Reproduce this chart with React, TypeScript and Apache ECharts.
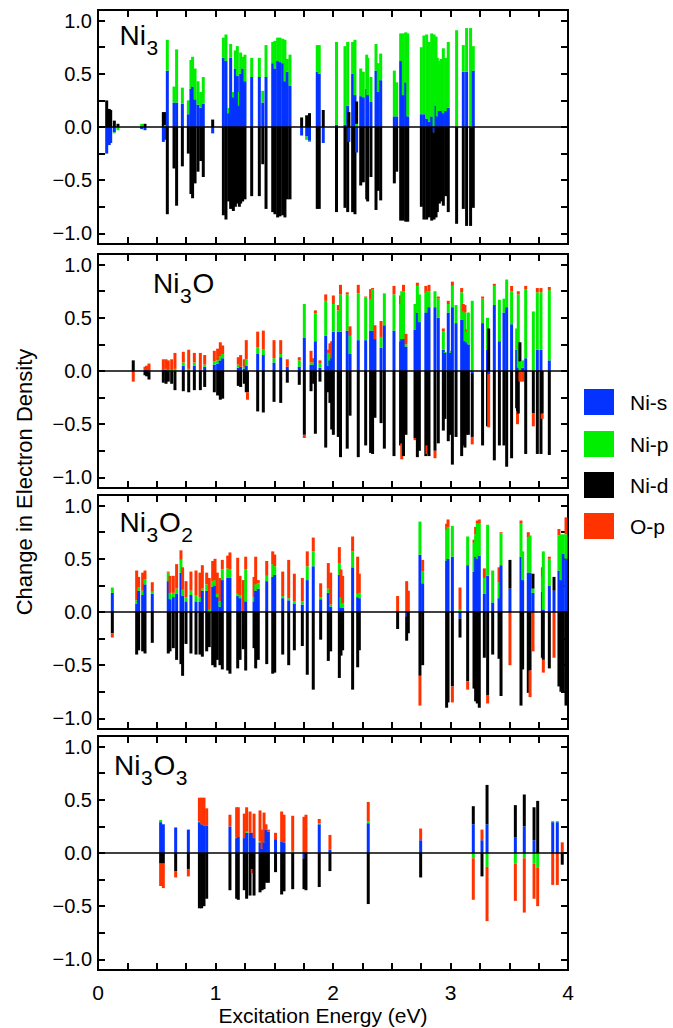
import React, { useEffect, useRef } from 'react';
import * as echarts from 'echarts';

// ---------- data ----------
const COMPONENTS = ['Ni-s', 'Ni-p', 'Ni-d', 'O-p'];
const COLORS = ['#0433ff', '#00ee00', '#000000', '#ff3300'];
const Y_TICKS = [-1, -0.75, -0.5, -0.25, 0, 0.25, 0.5, 0.75, 1];
const Y_LABELS = [-1, -0.5, 0, 0.5, 1];
const X_LABELS = [0, 1, 2, 3, 4];

// each row: [energy (eV), Ni-s, Ni-p, Ni-d, O-p]
const NI3 = [
  [0.074, -0.25, 0, 0.25, 0], [0.096, -0.17, 0, 0.17, 0], [0.108, -0.15, 0, 0.16, 0],
  [0.139, -0.05, -0.01, 0.06, 0], [0.17, 0, -0.03, 0.03, 0], [0.372, -0.02, 0.03, 0, 0],
  [0.4, -0.03, 0, 0.03, 0], [0.556, -0.14, 0, 0.14, 0], [0.573, -0.12, 0.02, 0.12, 0],
  [0.59, 0.53, 0.29, -0.82, 0], [0.647, 0.23, 0.15, -0.39, 0], [0.669, 0.23, 0.5, -0.74, 0],
  [0.718, 0.22, 0.15, -0.37, 0], [0.769, 0.12, 0.13, -0.25, 0], [0.791, 0.36, 0.27, -0.63, 0],
  [0.805, 0.38, 0.28, -0.67, 0], [0.826, 0.26, 0.29, -0.53, 0], [0.851, 0.21, 0.22, -0.42, 0],
  [0.874, 0.18, 0.15, -0.32, 0], [0.896, 0.22, 0.25, -0.47, 0], [0.976, -0.06, 0, 0.07, 0],
  [1.067, 0.65, 0.19, -0.83, 0], [1.089, 0.62, 0.25, -0.87, 0], [1.112, 0.13, 0.05, -0.7, 0],
  [1.129, 0.65, 0.13, -0.77, 0], [1.152, 0.28, 0.05, -0.79, 0], [1.169, 0.55, 0.17, -0.75, 0],
  [1.186, 0.48, 0.28, -0.72, 0], [1.203, 0.2, 0.13, -0.75, 0], [1.214, 0.5, 0.2, -0.72, 0],
  [1.231, 0.55, 0.11, -0.7, 0], [1.251, 0.43, 0.25, -0.68, 0], [1.308, 0.47, 0.18, -0.65, 0],
  [1.373, 0.47, 0.18, -0.65, 0], [1.402, 0.23, 0.11, -0.35, 0], [1.43, 0.47, 0.3, -0.77, 0],
  [1.487, 0.6, 0.2, -0.8, 0], [1.506, 0.55, 0.26, -0.82, 0], [1.529, 0.62, 0.22, -0.85, 0],
  [1.549, 0.61, 0.23, -0.84, 0], [1.572, 0.6, 0.23, -0.83, 0], [1.591, 0.43, 0.39, -0.85, 0],
  [1.611, 0.52, 0.12, -0.68, 0], [1.634, 0.39, 0.29, -0.68, 0], [1.733, -0.08, 0, 0.09, 0],
  [1.776, -0.09, -0.03, 0.11, 0], [1.8, -0.13, -0.01, 0.13, 0], [1.866, 0.52, 0.25, -0.77, 0],
  [1.883, 0.5, 0.27, -0.77, 0], [1.917, -0.15, 0, 0.16, 0], [2.03, 0.02, 0.78, -0.8, 0],
  [2.102, 0.02, 0.74, -0.76, 0], [2.125, 0.2, 0.6, -0.8, 0], [2.135, -0.14, 0, 0.14, 0],
  [2.167, 0.5, 0.3, -0.8, 0], [2.187, 0.3, 0.52, -0.82, 0], [2.201, -0.24, 0.03, 0.21, 0],
  [2.236, 0.29, 0.26, -0.55, 0], [2.258, 0.28, 0.24, -0.52, 0], [2.287, 0.36, 0.32, -0.68, 0],
  [2.295, 0.3, 0.35, -0.7, 0], [2.323, 0.24, 0.23, -0.47, 0], [2.366, 0.53, 0.25, -0.78, 0],
  [2.385, 0.33, 0.27, -0.6, 0], [2.406, 0.44, 0.25, -0.69, 0], [2.522, 0.1, 0.43, -0.53, 0],
  [2.542, 0.1, 0.32, -0.42, 0], [2.576, 0.62, 0.26, -0.88, 0], [2.598, 0.3, 0.58, -0.88, 0],
  [2.619, 0.42, 0.47, -0.89, 0], [2.636, 0.1, 0.78, -0.89, 0], [2.752, 0.12, 0.63, -0.75, 0],
  [2.774, 0.12, 0.74, -0.87, 0], [2.797, 0.08, 0.79, -0.87, 0], [2.82, 0.05, 0.75, -0.85, 0],
  [2.84, 0.1, 0.78, -0.88, 0], [2.86, -0.05, 0.87, -0.82, 0], [2.877, 0.2, 0.65, -0.85, 0],
  [2.888, 0.1, 0.55, -0.8, 0], [2.905, 0.15, 0.47, -0.72, 0], [2.919, 0.15, 0.49, -0.7, 0],
  [2.939, 0.13, 0.61, -0.74, 0], [2.959, 0.15, 0.5, -0.65, 0], [2.981, 0.18, 0.62, -0.8, 0],
  [3.052, 0, 0.91, -0.91, 0], [3.109, 0.52, 0.25, -0.77, 0], [3.137, 0.52, 0.41, -0.93, 0],
  [3.171, 0, 0.93, -0.93, 0], [3.194, 0.53, 0.23, -0.76, 0],
];

const NI3O = [
  [0.3, 0, 0, 0.1, -0.1], [0.4, 0.01, 0, -0.04, 0.03], [0.414, 0.01, 0, -0.05, 0.04],
  [0.434, -0.01, 0, -0.07, 0.07], [0.556, 0.01, 0, -0.11, 0.1], [0.579, 0.01, 0.01, -0.12, 0.09],
  [0.598, 0, 0.01, -0.1, 0.09], [0.627, 0, 0.01, -0.12, 0.1], [0.655, 0, 0.02, -0.18, 0.15],
  [0.726, 0.05, 0.03, -0.19, 0.1], [0.772, 0, 0.02, -0.2, 0.18], [0.82, 0.05, 0.03, -0.18, 0.09],
  [0.871, 0.01, 0, -0.18, 0.16], [0.908, 0.04, 0.02, -0.15, 0.09], [0.99, 0.06, 0.03, -0.2, 0.1],
  [1.018, 0.07, 0.03, -0.23, 0.11], [1.041, 0.1, 0.04, -0.27, 0.13], [1.061, 0.12, 0.04, -0.26, 0.08],
  [1.194, 0.03, 0.03, -0.14, 0.07], [1.214, 0.04, 0, -0.15, 0.11], [1.245, 0.02, 0.02, -0.12, 0.07],
  [1.262, 0.05, 0.06, -0.2, 0.18], [1.272, 0, 0, -0.2, -0.07], [1.359, 0.16, 0.06, -0.38, 0.15],
  [1.407, 0.15, 0.05, -0.39, 0.18], [1.498, 0.08, 0.04, -0.29, 0.17], [1.555, 0.13, 0.03, -0.3, 0.13],
  [1.611, 0.04, 0, -0.11, 0.07], [1.713, 0.04, 0.06, -0.13, 0.03], [1.756, 0.31, 0.32, -0.6, -0.03],
  [1.813, 0.06, 0.02, -0.19, 0.11], [1.835, 0.06, 0.02, -0.12, 0.04], [1.85, 0.28, 0.26, -0.59, 0.03],
  [1.889, 0.03, 0.04, -0.1, 0.03], [1.938, 0.33, 0.33, -0.72, 0.06], [1.96, 0.05, 0.12, -0.2, 0.03],
  [1.974, 0.1, 0.07, -0.3, 0.09], [1.989, 0.12, 0, -0.55, 0.16], [2.003, 0.37, 0.26, -0.6, 0.08],
  [2.045, 0.37, 0.2, -0.62, 0.05], [2.064, 0.37, 0.35, -0.81, 0.09], [2.121, 0.38, 0.34, -0.73, 0.02],
  [2.145, 0.16, 0.17, -0.42, 0.09], [2.215, 0.29, 0.44, -0.81, 0.08], [2.278, 0.29, 0.4, -0.7, 0.01],
  [2.32, 0.38, 0.29, -0.77, 0.1], [2.337, 0.38, 0.39, -0.78, 0.01], [2.357, 0.3, 0, -0.44, 0.13],
  [2.409, 0.22, 0.1, -0.49, 0.15], [2.437, 0.43, 0.3, -0.73, 0], [2.519, 0.38, 0.34, -0.8, 0.08],
  [2.575, 0.28, 0.35, -0.7, 0.08], [2.585, 0.3, 0.45, -0.68, -0.15], [2.6, 0.3, 0.45, -0.8, 0.06],
  [2.621, 0.23, 0.02, -0.6, 0.1], [2.698, 0.39, 0.24, -0.63, -0.02], [2.718, 0.55, 0.25, -0.81, 0.03],
  [2.735, 0.46, 0.26, -0.75, 0], [2.79, 0.55, 0.18, -0.8, 0.07], [2.8, 0.55, 0.2, -0.7, -0.08],
  [2.817, 0.6, 0.15, -0.8, 0.06], [2.868, 0.6, 0.15, -0.75, -0.07], [2.896, 0.5, 0.18, -0.68, 0.02],
  [2.939, 0.2, 0.17, -0.56, 0.03], [2.953, 0.17, 0.01, -0.45, 0], [2.981, 0.55, 0.08, -0.66, 0.03],
  [3.0, 0.17, 0.02, -0.6, 0], [3.016, 0.6, 0.2, -0.88, 0.04], [3.047, 0.45, 0.17, -0.62, 0],
  [3.095, 0.48, 0.26, -0.8, 0.04], [3.109, 0.48, 0.08, -0.7, 0.07], [3.123, 0.28, 0.27, -0.72, 0.07],
  [3.137, 0.27, 0.1, -0.6, 0.02], [3.152, 0.25, 0.3, -0.6, 0], [3.185, -0.02, 0.66, -0.6, -0.07],
  [3.273, 0.45, 0.23, -0.7, 0.02], [3.315, 0.2, 0.3, -0.52, 0], [3.325, -0.03, 0, 0.4, -0.5],
  [3.373, 0.62, 0.18, -0.84, 0.02], [3.416, 0.28, 0.39, -0.7, 0], [3.455, 0.55, 0.13, -0.7, 0],
  [3.478, 0.6, 0.26, -0.9, 0], [3.52, 0.44, 0.31, -0.82, 0.05], [3.563, 0.2, 0.2, -0.35, 0],
  [3.57, 0, 0, -0.38, -0.12], [3.577, 0.03, 0.69, -0.4, 0.03], [3.591, 0, 0.09, 0.18, -0.1],
  [3.614, 0.03, 0.07, 0, -0.1], [3.64, 0.12, 0.65, -0.78, 0.03], [3.705, 0, 0.56, -0.4, -0.12],
  [3.739, 0.2, 0.54, -0.78, 0.04], [3.77, 0.2, 0.54, -0.78, 0.04], [3.78, 0, 0, -0.4, -0.05],
  [3.841, 0.1, 0.66, -0.79, 0.03],
];

const NI3O2 = [
  [0.122, 0.18, 0.05, -0.2, -0.04], [0.329, 0.08, 0.03, -0.4, 0.28], [0.346, 0.2, 0.03, -0.36, 0.1],
  [0.38, 0.16, 0.04, -0.37, 0.17], [0.4, 0.26, 0.05, -0.39, 0.08], [0.462, 0.17, 0.02, -0.29, 0.09],
  [0.598, 0.29, 0.08, -0.39, 0.01], [0.613, 0.12, 0.06, -0.37, 0.16], [0.641, 0.14, 0.04, -0.34, 0.16],
  [0.669, 0.17, 0.05, -0.45, 0.23], [0.706, 0.37, 0.12, -0.49, 0.09], [0.72, 0.15, 0.06, -0.6, 0.21],
  [0.749, 0.1, 0.04, -0.3, 0.15], [0.791, 0.16, 0.04, -0.39, 0.18], [0.834, 0.1, 0.06, -0.4, 0.23],
  [0.868, 0.1, 0.04, -0.4, 0.23], [0.888, 0.2, 0.02, -0.42, 0.22], [0.925, 0.2, 0.06, -0.37, 0.11],
  [0.947, 0, 0.02, -0.33, 0.3], [0.976, 0.24, 0.05, -0.5, 0.19], [0.996, 0.25, 0.05, -0.52, 0.2],
  [1.015, 0.14, 0.03, -0.45, 0.2], [1.038, 0.05, 0.05, -0.5, 0.22], [1.058, 0.3, 0.1, -0.54, 0.09],
  [1.104, 0.32, 0.09, -0.55, 0.12], [1.123, 0.32, 0.08, -0.58, 0.16], [1.189, 0.15, 0.02, -0.53, 0.34],
  [1.209, 0.13, 0.03, -0.45, 0.18], [1.237, 0.01, 0, -0.35, 0.29], [1.257, 0.1, 0.3, -0.55, 0.12],
  [1.328, 0.1, 0.04, -0.34, 0.19], [1.342, 0.2, 0.06, -0.53, 0.26], [1.364, 0.22, 0.05, -0.45, 0.03],
  [1.436, 0.29, 0.05, -0.49, 0.14], [1.487, 0.33, 0.12, -0.58, 0.12], [1.504, 0.35, 0.08, -0.57, 0.11],
  [1.572, 0.13, 0.02, -0.4, 0.23], [1.623, 0.11, 0.02, -0.5, 0.36], [1.671, 0.08, 0.02, -0.36, 0.26],
  [1.739, 0.07, 0.03, -0.32, 0.22], [1.781, 0.3, 0.13, -0.59, 0.14], [1.832, 0.43, 0.14, -0.73, 0.13],
  [1.895, 0.12, 0.02, -0.26, 0.13], [1.96, 0.18, 0.04, -0.46, 0.24], [1.98, 0.05, 0.02, -0.37, 0.3],
  [2.054, 0.35, 0.11, -0.62, 0.15], [2.068, 0.04, 0.1, -0.41, 0.26], [2.082, 0.04, 0.04, -0.36, 0.26],
  [2.167, 0.42, 0.15, -0.73, 0.14], [2.21, 0.14, 0.03, -0.52, 0.35], [2.224, 0.13, 0.05, -0.36, 0.18],
  [2.55, 0, 0, -0.16, 0.15], [2.627, -0.04, 0, -0.23, 0.29], [2.641, 0, 0, -0.2, 0.2],
  [2.74, 0.54, 0.31, -0.6, -0.28], [2.763, 0.27, 0.11, -0.5, 0.11], [2.967, 0.48, 0.29, -0.9, 0.06],
  [2.979, 0.5, 0.3, -0.85, 0.07], [3.016, 0.52, 0.29, -0.7, -0.15], [3.081, -0.06, 0.02, -0.18, 0.21],
  [3.146, 0.44, 0.27, -0.65, -0.08], [3.2, 0.38, 0.27, -0.72, 0.03], [3.214, 0.52, 0.21, -0.84, 0.07],
  [3.228, 0.5, 0.33, -0.86, 0.03], [3.245, 0.53, 0.3, -0.9, 0.04], [3.288, 0.17, 0.15, -0.43, 0.09],
  [3.316, 0.34, 0.48, -0.78, -0.08], [3.359, 0.09, 0.3, -0.4, 0], [3.413, 0.13, 0.15, -0.44, 0.14],
  [3.43, 0.44, 0.3, -0.79, 0.01], [3.506, 0.22, 0, 0.27, -0.5], [3.6, 0.52, 0.31, -0.88, 0.03],
  [3.614, 0.3, 0.27, -0.54, 0], [3.662, 0.37, 0.33, -0.76, 0.05], [3.677, 0.37, 0.35, -0.55, -0.25],
  [3.702, 0.18, 0.04, 0.14, -0.37], [3.782, 0.19, 0.14, -0.43, 0.09], [3.79, 0.02, 0.55, -0.45, -0.12],
  [3.841, 0.25, 0.25, -0.53, 0.02], [3.881, 0.2, 0, 0.13, -0.43], [3.923, 0.39, 0.33, -0.7, 0.06],
  [3.94, 0.3, 0.43, -0.75, 0], [3.96, 0.55, 0.18, -0.75, 0], [3.983, 0.5, 0.23, -0.88, 0.16],
];

const NI3O3 = [
  [0.533, 0.29, 0.02, -0.1, -0.21], [0.556, 0.27, 0, -0.1, -0.23], [0.661, 0.24, 0, -0.17, -0.06],
  [0.769, 0.22, 0, -0.15, -0.07], [0.863, 0.29, 0.01, -0.52, 0.22], [0.882, 0.27, 0, -0.52, 0.25],
  [0.902, 0.26, 0, -0.5, 0.26], [0.925, 0.26, 0, -0.43, 0.16], [1.123, 0.25, 0, -0.35, 0.11],
  [1.18, 0.14, 0.01, -0.43, 0.28], [1.194, 0.15, 0, -0.44, 0.28], [1.245, 0.14, 0, -0.35, 0.23],
  [1.265, 0.19, 0.01, -0.43, 0.23], [1.294, 0.19, 0, -0.4, 0.2], [1.313, 0.19, 0, -0.15, -0.04],
  [1.328, 0.14, 0, -0.4, 0.23], [1.379, 0.1, 0.01, -0.37, 0.29], [1.396, 0.04, 0, -0.35, 0.18],
  [1.413, 0.1, 0, -0.34, 0.28], [1.43, 0.22, 0, -0.28, 0.05], [1.45, 0.2, 0, -0.28, 0.02],
  [1.511, 0.13, 0, -0.18, 0.06], [1.563, 0.11, 0, -0.39, 0.28], [1.583, 0.1, 0, -0.36, 0.26],
  [1.657, 0, 0.02, -0.34, 0.33], [1.753, -0.05, 0, -0.29, 0.34], [1.77, 0, 0, -0.35, 0.36],
  [1.883, 0.27, 0.01, -0.32, 0.04], [1.974, 0.03, 0, -0.17, 0.14], [2.3, 0.28, 0.02, -0.48, 0.18],
  [2.746, 0.12, 0, -0.23, 0.11], [3.194, 0.27, -0.05, 0.17, -0.39], [3.268, 0.12, 0, -0.22, 0.1],
  [3.311, 0.27, -0.13, 0.37, -0.51], [3.552, 0.15, -0.1, 0.3, -0.35], [3.628, 0.25, -0.05, 0.3, -0.51],
  [3.711, 0.12, -0.1, 0.31, -0.33], [3.742, 0, -0.14, 0.49, -0.36], [3.87, 0.29, 0.01, 0, -0.3],
  [3.909, 0.29, 0.01, 0, -0.3], [3.951, 0, 0, -0.11, 0.1],
];

// panel title pieces: [text, isSubscript]
const TITLES: [string, boolean][][] = [
  [['Ni', false], ['3', true]],
  [['Ni', false], ['3', true], ['O', false]],
  [['Ni', false], ['3', true], ['O', false], ['2', true]],
  [['Ni', false], ['3', true], ['O', false], ['3', true]],
];
const PANEL_DATA = [NI3, NI3O, NI3O2, NI3O3];

// ---------- layout ----------
const FONT = 'Liberation Sans, Arial, Helvetica, sans-serif';
const GRID_LEFT = 98;
const GRID_WIDTH = 470;
const GRID_TOPS = [10, 254, 495, 736];
const GRID_HEIGHT = 234;
const BAR_W = 3;
const TITLE_POS = [[119.5, 46], [153, 293.3], [119.5, 532.5], [114, 776]];
const TITLE_FS = 28;
const SUB_FS = 21;
const CHAR_W: Record<string, number> = { N: 0.722, i: 0.222, O: 0.778, '2': 0.556, '3': 0.556 };

function renderBar(params: any, api: any) {
  const x = api.value(0);
  let pos = 0;
  let neg = 0;
  const children: any[] = [];
  for (let k = 0; k < 4; k++) {
    const v = api.value(k + 1);
    if (!v) continue;
    const base = v > 0 ? pos : neg;
    const top = base + v;
    if (v > 0) pos = top; else neg = top;
    const a = api.coord([x, base]);
    const b = api.coord([x, top]);
    children.push({
      type: 'rect',
      shape: { x: a[0] - BAR_W / 2, y: Math.min(a[1], b[1]), width: BAR_W, height: Math.abs(a[1] - b[1]) },
      style: { fill: COLORS[k] },
    });
  }
  return { type: 'group', children };
}

function titleGraphics(): any[] {
  const out: any[] = [];
  TITLES.forEach((parts, i) => {
    let x = TITLE_POS[i][0];
    const base = TITLE_POS[i][1];
    parts.forEach(([t, sub]) => {
      const fs = sub ? SUB_FS : TITLE_FS;
      const bl = sub ? base + 9.3 : base;
      out.push({
        type: 'text',
        x,
        y: bl - 0.358 * fs,
        style: { text: t, fontSize: fs, fontFamily: FONT, fill: '#000', align: 'left', verticalAlign: 'middle' },
      });
      let w = 0;
      for (const c of t) w += (CHAR_W[c] || 0.556) * fs;
      x += w + (sub ? 0.8 : 0.5);
    });
  });
  return out;
}

function legendGraphics(): any[] {
  const out: any[] = [];
  const tops = [389, 431, 472, 513];
  COMPONENTS.forEach((name, k) => {
    out.push({ type: 'rect', shape: { x: 584, y: tops[k], width: 30, height: 26 }, style: { fill: COLORS[k] } });
    out.push({
      type: 'text', x: 630, y: tops[k] + 13,
      style: { text: name, fontSize: 21, fontFamily: FONT, fill: '#000', align: 'left', verticalAlign: 'middle' },
    });
  });
  return out;
}

function buildOption(): any {
  const grids: any[] = [];
  const xAxes: any[] = [];
  const yAxes: any[] = [];
  const series: any[] = [];
  const yFmt = (v: number) => (v < 0 ? '\u2212' : '') + Math.abs(v).toFixed(1);
  PANEL_DATA.forEach((data, i) => {
    grids.push({
      left: GRID_LEFT, width: GRID_WIDTH, top: GRID_TOPS[i], height: GRID_HEIGHT,
      show: true, borderColor: '#000', borderWidth: 2, backgroundColor: 'transparent',
    });
    const isLast = i === PANEL_DATA.length - 1;
    const tick = { show: true, inside: true, length: 7, lineStyle: { color: '#000', width: 2 } };
    const noLine = { show: false, onZero: false };
    xAxes.push({
      gridIndex: i, type: 'value', min: 0, max: 4, interval: 0.25, position: 'bottom',
      axisLine: noLine, axisTick: tick, splitLine: { show: false },
      axisLabel: {
        show: isLast, fontSize: 21, fontFamily: FONT, color: '#000', margin: 12,
        formatter: (v: number) => (X_LABELS.indexOf(v) >= 0 ? String(v) : ''),
      },
    });
    xAxes.push({
      gridIndex: i, type: 'value', min: 0, max: 4, interval: 0.25, position: 'top',
      axisLine: noLine, axisTick: tick, splitLine: { show: false }, axisLabel: { show: false },
    });
    yAxes.push({
      gridIndex: i, type: 'value', min: -1.1, max: 1.1, position: 'left',
      axisLine: noLine, splitLine: { show: false },
      axisTick: { ...tick, customValues: Y_TICKS },
      axisLabel: { customValues: Y_LABELS, formatter: yFmt, fontSize: 20, fontFamily: FONT, color: '#000', margin: 6 },
    });
    yAxes.push({
      gridIndex: i, type: 'value', min: -1.1, max: 1.1, position: 'right',
      axisLine: noLine, splitLine: { show: false },
      axisTick: { ...tick, customValues: Y_TICKS }, axisLabel: { show: false },
    });
    series.push({
      type: 'custom', name: 'panel' + i, xAxisIndex: 2 * i, yAxisIndex: 2 * i,
      data, encode: { x: 0, y: [1, 2, 3, 4] }, renderItem: renderBar, clip: true,
    });
    series.push({
      type: 'line', xAxisIndex: 2 * i, yAxisIndex: 2 * i, data: [[0, 0], [4, 0]],
      symbol: 'none', lineStyle: { color: '#000', width: 1.3 }, z: 5, silent: true,
    });
  });
  return {
    animation: false,
    backgroundColor: '#fff',
    grid: grids,
    xAxis: xAxes,
    yAxis: yAxes,
    series,
    graphic: [
      ...titleGraphics(),
      ...legendGraphics(),
      {
        type: 'text', x: 323, y: 1015.5,
        style: { text: 'Excitation Energy (eV)', fontSize: 21, fontFamily: FONT, fill: '#000', align: 'center', verticalAlign: 'middle' },
      },
      {
        type: 'text', x: 24, y: 482, rotation: Math.PI / 2,
        style: { text: 'Change in Electron Density', fontSize: 22, fontFamily: FONT, fill: '#000', align: 'center', verticalAlign: 'middle' },
      },
    ],
  };
}

export default function App() {
  const ref = useRef<HTMLDivElement>(null);
  useEffect(() => {
    if (!ref.current) return;
    const chart = echarts.init(ref.current, undefined, { renderer: 'svg' });
    chart.setOption(buildOption());
    return () => chart.dispose();
  }, []);
  return <div ref={ref} style={{ position: 'absolute', left: 0, top: 0, width: 673, height: 1028 }} />;
}
